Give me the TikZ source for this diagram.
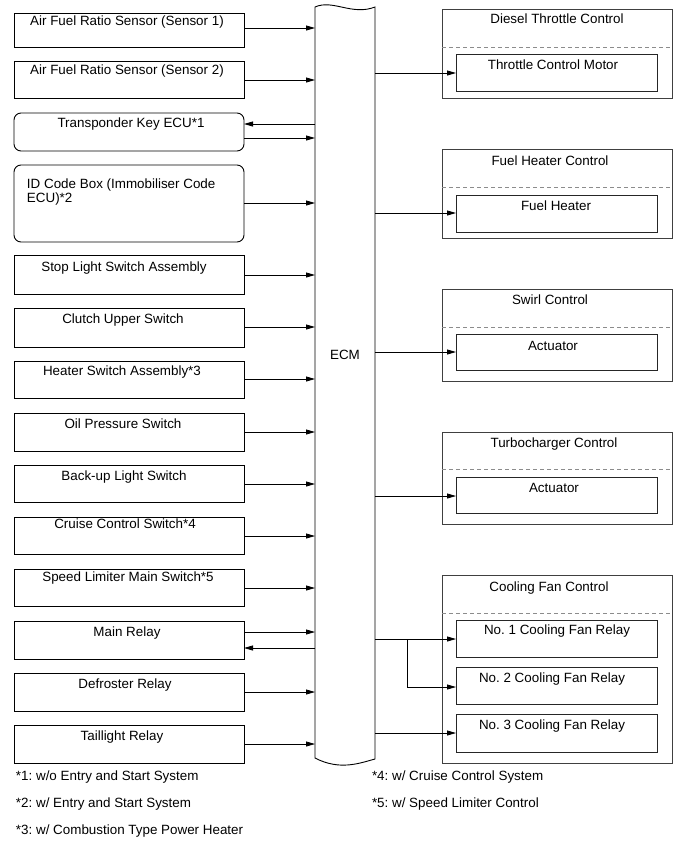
\documentclass[tikz,border=0pt]{standalone}
\usepackage{fontspec}
\setmainfont{Liberation Sans}
\usetikzlibrary{arrows.meta}
\frenchspacing
\begin{document}
\begin{tikzpicture}[x=1pt,y=-1pt,
  every node/.style={inner sep=0pt,outer sep=0pt},
  lbox/.style={draw=black,line width=0.9pt,anchor=north west,minimum width=230pt},
  rbox/.style={lbox,rounded corners=7pt},
  obox/.style={draw=black!75,line width=0.9pt,anchor=north west,minimum width=230pt},
  ibox/.style={draw=black!85,line width=0.9pt,anchor=north west,minimum width=201pt},
  txt/.style={anchor=base,font=\fontsize{13.4}{15}\selectfont},
  ltxt/.style={anchor=base west,font=\fontsize{13.4}{15}\selectfont},
  dashl/.style={draw=black!45,line width=0.9pt,dash pattern=on 4pt off 3pt},
  arr/.style={draw=black,line width=0.8pt,-{Triangle[length=9pt,width=5pt]}},
  conn/.style={draw=black,line width=0.8pt}
]
\useasboundingbox[fill=white] (0,0) rectangle (690,854);

% ECM
\node[minimum width=60pt,minimum height=751pt,anchor=north west] (ecm) at (315,7) {};
\draw[line width=0.9pt] (ecm.north west) .. controls (333,-1) and (352,16) .. (ecm.north east)
  -- (375,759) .. controls (360,763) and (340,771) .. (315,758) -- cycle;
\node[txt] (ecmlbl) at (345,359) {ECM};

% Left boxes
\node[lbox,minimum height=34pt] (b1) at (14,13) {};
\node[txt] (t1) at (127,25) {Air Fuel Ratio Sensor (Sensor 1)};
\node[lbox,minimum height=37pt] (b2) at (14,61) {};
\node[txt] (t2) at (127,74) {Air Fuel Ratio Sensor (Sensor 2)};
\node[rbox,minimum height=38pt] (b3) at (14,113) {};
\node[txt] (t3) at (131,127) {Transponder Key ECU*1};
\node[rbox,minimum height=77pt] (b4) at (14,165) {};
\node[ltxt] (t4a) at (27,188) {ID Code Box (Immobiliser Code};
\node[ltxt] (t4b) at (27,202) {ECU)*2};
\node[lbox,minimum height=39pt] (b5) at (14,255) {};
\node[txt] (t5) at (124,271) {Stop Light Switch Assembly};
\node[lbox,minimum height=39pt] (b6) at (14,308) {};
\node[txt] (t6) at (123,323) {Clutch Upper Switch};
\node[lbox,minimum height=37pt] (b7) at (14,361) {};
\node[txt] (t7) at (122,375) {Heater Switch Assembly*3};
\node[lbox,minimum height=38pt] (b8) at (14,413) {};
\node[txt] (t8) at (123,428) {Oil Pressure Switch};
\node[lbox,minimum height=37pt] (b9) at (14,465) {};
\node[txt] (t9) at (124,480) {Back-up Light Switch};
\node[lbox,minimum height=37pt] (b10) at (14,517) {};
\node[txt] (t10) at (125,528) {Cruise Control Switch*4};
\node[lbox,minimum height=37pt] (b11) at (14,569) {};
\node[txt] (t11) at (128,581) {Speed Limiter Main Switch*5};
\node[lbox,minimum height=38pt] (b12) at (14,621) {};
\node[txt] (t12) at (127,636) {Main Relay};
\node[lbox,minimum height=38pt] (b13) at (14,673) {};
\node[txt] (t13) at (125,688) {Defroster Relay};
\node[lbox,minimum height=38pt] (b14) at (14,725) {};
\node[txt] (t14) at (122,740) {Taillight Relay};

% Left connectors
\draw[arr] (b1.east|-0,28) -- (ecm.west|-0,28);
\draw[arr] (b2.east|-0,80) -- (ecm.west|-0,80);
\draw[arr] (ecm.west|-0,124) -- (b3.east|-0,124);
\draw[arr] (b3.east|-0,138) -- (ecm.west|-0,138);
\draw[arr] (b4.east|-0,203) -- (ecm.west|-0,203);
\draw[arr] (b5.east|-0,275) -- (ecm.west|-0,275);
\draw[arr] (b6.east|-0,327) -- (ecm.west|-0,327);
\draw[arr] (b7.east|-0,379) -- (ecm.west|-0,379);
\draw[arr] (b8.east|-0,432) -- (ecm.west|-0,432);
\draw[arr] (b9.east|-0,484) -- (ecm.west|-0,484);
\draw[arr] (b10.east|-0,536) -- (ecm.west|-0,536);
\draw[arr] (b11.east|-0,588) -- (ecm.west|-0,588);
\draw[arr] (b12.east|-0,632) -- (ecm.west|-0,632);
\draw[arr] (ecm.west|-0,648) -- (b12.east|-0,648);
\draw[arr] (b13.east|-0,692) -- (ecm.west|-0,692);
\draw[arr] (b14.east|-0,744) -- (ecm.west|-0,744);

% Right groups
\node[obox,minimum height=89pt] (g1) at (442,9) {};
\draw[dashl] (g1.west|-0,47) -- (g1.east|-0,47);
\node[txt] (g1t) at (557,23) {Diesel Throttle Control};
\node[ibox,minimum height=37pt] (i1) at (456,54) {};
\node[txt] (i1t) at (553,69) {Throttle Control Motor};

\node[obox,minimum height=89pt] (g2) at (442,149) {};
\draw[dashl] (g2.west|-0,187) -- (g2.east|-0,187);
\node[txt] (g2t) at (550,165) {Fuel Heater Control};
\node[ibox,minimum height=37pt] (i2) at (456,195) {};
\node[txt] (i2t) at (556,210) {Fuel Heater};

\node[obox,minimum height=92pt] (g3) at (442,289) {};
\draw[dashl] (g3.west|-0,327) -- (g3.east|-0,327);
\node[txt] (g3t) at (550,304) {Swirl Control};
\node[ibox,minimum height=36pt] (i3) at (456,334) {};
\node[txt] (i3t) at (553,350) {Actuator};

\node[obox,minimum height=92pt] (g4) at (442,432) {};
\draw[dashl] (g4.west|-0,469) -- (g4.east|-0,469);
\node[txt] (g4t) at (554,447) {Turbocharger Control};
\node[ibox,minimum height=36pt] (i4) at (456,477) {};
\node[txt] (i4t) at (554,492) {Actuator};

\node[obox,minimum height=188pt] (g5) at (442,575) {};
\draw[dashl] (g5.west|-0,613) -- (g5.east|-0,613);
\node[txt] (g5t) at (549,591) {Cooling Fan Control};
\node[ibox,minimum height=37pt] (i5) at (456,620) {};
\node[txt] (i5t) at (557,634) {No. 1 Cooling Fan Relay};
\node[ibox,minimum height=37pt] (i6) at (456,667) {};
\node[txt] (i6t) at (552,682) {No. 2 Cooling Fan Relay};
\node[ibox,minimum height=38pt] (i7) at (456,714) {};
\node[txt] (i7t) at (552,729) {No. 3 Cooling Fan Relay};

% Right connectors
\draw[arr] (ecm.east|-0,73) -- (i1.west|-0,73);
\draw[arr] (ecm.east|-0,213) -- (i2.west|-0,213);
\draw[arr] (ecm.east|-0,352) -- (i3.west|-0,352);
\draw[arr] (ecm.east|-0,496) -- (i4.west|-0,496);
\draw[arr] (ecm.east|-0,639) -- (i5.west|-0,639);
\coordinate (br) at (407,639);
\draw[arr] (br) -- (br|-0,687) -- (i6.west|-0,687);
\draw[arr] (ecm.east|-0,733) -- (i7.west|-0,733);

% Footnotes
\node[ltxt] (f1) at (16,780) {*1: w/o Entry and Start System};
\node[ltxt] (f2) at (16,807) {*2: w/ Entry and Start System};
\node[ltxt] (f3) at (16,834) {*3: w/ Combustion Type Power Heater};
\node[ltxt] (f4) at (372,780) {*4: w/ Cruise Control System};
\node[ltxt] (f5) at (372,807) {*5: w/ Speed Limiter Control};
\end{tikzpicture}
\end{document}
